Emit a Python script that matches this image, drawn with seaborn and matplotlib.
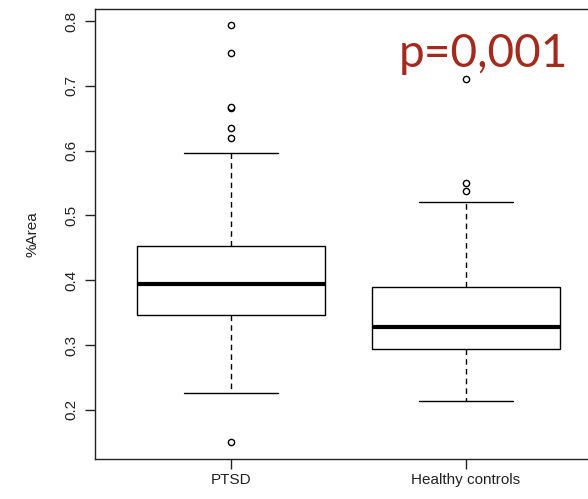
# Boxplot %Area: PTSD vs Healthy controls (estilo R)

import pandas as pd
import matplotlib
matplotlib.use("Agg")
import matplotlib.pyplot as plt
import seaborn as sns

grupos = ["PTSD", "Healthy controls"]
# resumen: bigote inferior, Q1, mediana, Q3, bigote superior
ptsd_resumen = [0.226, 0.346, 0.394, 0.453, 0.596]
control_resumen = [0.214, 0.294, 0.328, 0.390, 0.520]
# valores atípicos
ptsd_atipicos = [0.150, 0.620, 0.635, 0.665, 0.667, 0.750, 0.794]
control_atipicos = [0.537, 0.550, 0.710]
ticks_y = [0.2, 0.3, 0.4, 0.5, 0.6, 0.7, 0.8]

df_cajas = pd.DataFrame({
    "grupo": [grupos[0]] * len(ptsd_resumen) + [grupos[1]] * len(control_resumen),
    "area": ptsd_resumen + control_resumen,
})
df_atipicos = pd.DataFrame({
    "grupo": [grupos[0]] * len(ptsd_atipicos) + [grupos[1]] * len(control_atipicos),
    "area": ptsd_atipicos + control_atipicos,
})

sns.set_style("white")
plt.rcParams["font.family"] = ["Liberation Sans", "DejaVu Sans"]

fig = plt.figure(figsize=(5.88, 4.99), dpi=100)
ax = fig.add_axes([95 / 588, 40 / 499, 507 / 588, 450 / 499])

sns.boxplot(data=df_cajas, x="grupo", y="area", order=grupos, width=0.8,
            color="white", linecolor="black", linewidth=1, showfliers=False,
            whiskerprops=dict(linestyle=(0, (4, 3))),
            medianprops=dict(linewidth=3), ax=ax)
sns.stripplot(data=df_atipicos, x="grupo", y="area", order=grupos, jitter=False,
              marker="o", size=4.5, color="white", edgecolor="black",
              linewidth=1, ax=ax)

ax.set_xlim(-0.58, 1.58)
ax.set_ylim(0.1241, 0.8185)
ax.set_yticks(ticks_y)
ax.set_yticklabels([str(t) for t in ticks_y])
ax.set_xticks([0, 1])
ax.set_xticklabels(grupos)
plt.setp(ax.get_yticklabels(), rotation=90, va="center")
ax.tick_params(direction="out", length=7, width=1, labelsize=11,
               colors="#222222", left=True, bottom=True)
ax.tick_params(axis="y", pad=5)
ax.tick_params(axis="x", pad=3)
for s in ax.spines.values():
    s.set_color("#222222")
    s.set_linewidth(1)
ax.set_xlabel("")
ax.set_ylabel("%Area", fontsize=11, color="#222222", labelpad=18)

fig.text(568 / 588, (499 - 67) / 499, "p=0,001", ha="right", va="baseline",
         fontsize=33, color="#A32B1E", family=["Lato", "DejaVu Sans"])

fig.savefig("out.png", dpi=100)
